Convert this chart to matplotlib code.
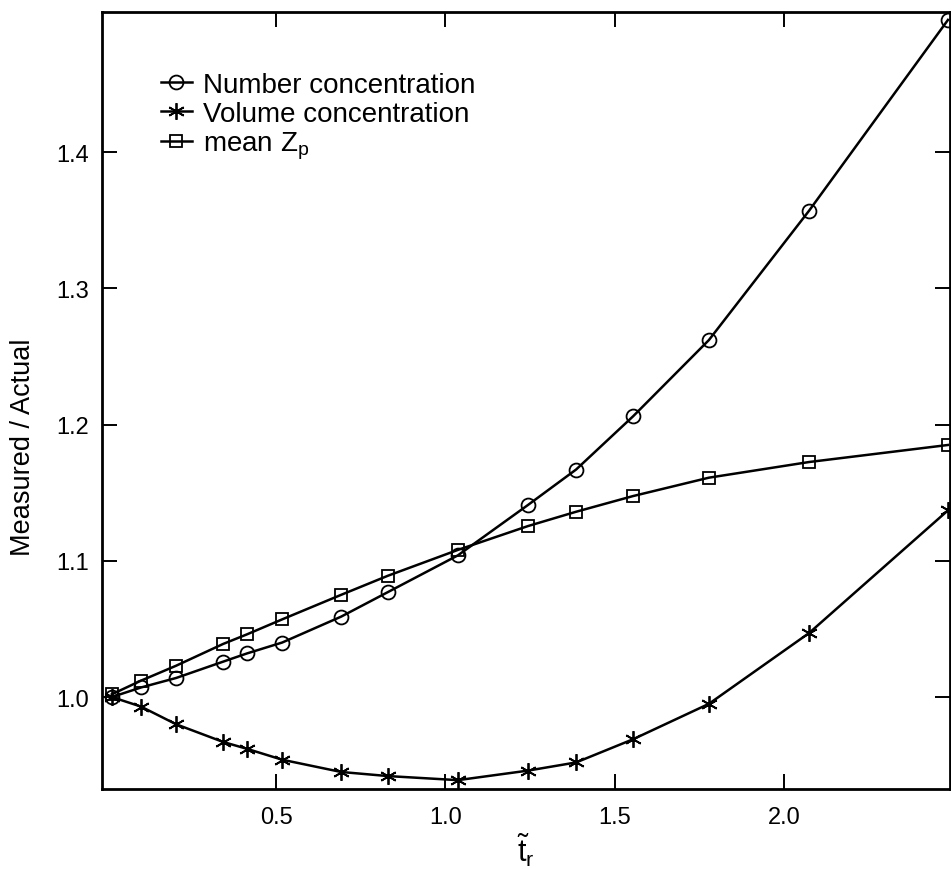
import matplotlib
matplotlib.use("Agg")
import matplotlib.pyplot as plt
from matplotlib.lines import Line2D

plt.rcParams['font.family'] = ['Liberation Sans', 'DejaVu Sans']
plt.rcParams['mathtext.fontset'] = 'custom'
plt.rcParams['mathtext.rm'] = 'Liberation Sans'
plt.rcParams['mathtext.it'] = 'Liberation Sans'

# data
t_r = [0.015, 0.101, 0.205, 0.344, 0.414, 0.518, 0.692, 0.830, 1.037,
       1.244, 1.386, 1.554, 1.778, 2.074, 2.484]
number_conc = [1.000, 1.007, 1.014, 1.026, 1.032, 1.040, 1.059, 1.077, 1.104,
               1.141, 1.167, 1.206, 1.262, 1.357, 1.497]
volume_conc = [1.000, 0.993, 0.980, 0.967, 0.962, 0.954, 0.945, 0.942, 0.939,
               0.946, 0.952, 0.969, 0.995, 1.047, 1.137]
mean_zp = [1.002, 1.012, 1.023, 1.039, 1.046, 1.057, 1.075, 1.089, 1.108,
           1.1255, 1.136, 1.1475, 1.161, 1.1725, 1.185]

labels = ["Number concentration", "Volume concentration",
          r"mean Z$_\mathrm{p}$"]
x_ticks = [0.5, 1.0, 1.5, 2.0]
y_ticks = [1.0, 1.1, 1.2, 1.3, 1.4]

W, H = 951, 870
fig = plt.figure(figsize=(W / 100, H / 100), dpi=100)
ax = fig.add_axes([102 / W, (H - 790) / H, (950 - 102) / W, (790 - 13) / H])

asterisk = (6, 2, 0)
kw = dict(color='black', lw=1.8, mfc='none', mec='black', mew=1.3, clip_on=False)
ax.plot(t_r, number_conc, marker='o', ms=10, **kw)
ax.plot(t_r, volume_conc, marker=asterisk, ms=12, **kw)
ax.plot(t_r, mean_zp, marker='s', ms=9, **kw)

ax.set_xlim(-0.014, 2.490)
ax.set_ylim(0.9325, 1.5028)
ax.set_xticks(x_ticks)
ax.set_xticklabels([f"{v:.1f}" for v in x_ticks])
ax.set_yticks(y_ticks)
ax.set_yticklabels([f"{v:.1f}" for v in y_ticks])
ax.tick_params(direction='in', length=11, width=1.4, labelsize=17,
               top=True, right=True, pad=9)
ax.tick_params(axis='x', pad=12)
for sp in ax.spines.values():
    sp.set_linewidth(2.0)

ax.set_xlabel(r"$\tilde{\mathrm{t}}_\mathrm{r}$", fontsize=22, labelpad=2)
ax.set_ylabel("Measured / Actual", fontsize=19.5)
ax.yaxis.set_label_coords(-0.078, (790 - 447) / 777)

handles = [
    Line2D([], [], color='black', lw=1.8, marker='o', ms=10, mfc='none', mew=1.3),
    Line2D([], [], color='black', lw=1.8, marker=asterisk, ms=12, mfc='none', mew=1.3),
    Line2D([], [], color='black', lw=1.8, marker='s', ms=9, mfc='none', mew=1.3),
]
fig.legend(handles, labels, loc='upper left', bbox_to_anchor=(161 / W, (H - 73) / H),
           frameon=False, fontsize=20, handlelength=1.1, handletextpad=0.4,
           labelspacing=0.1, borderpad=0, borderaxespad=0)

fig.savefig("out.png", dpi=100)
